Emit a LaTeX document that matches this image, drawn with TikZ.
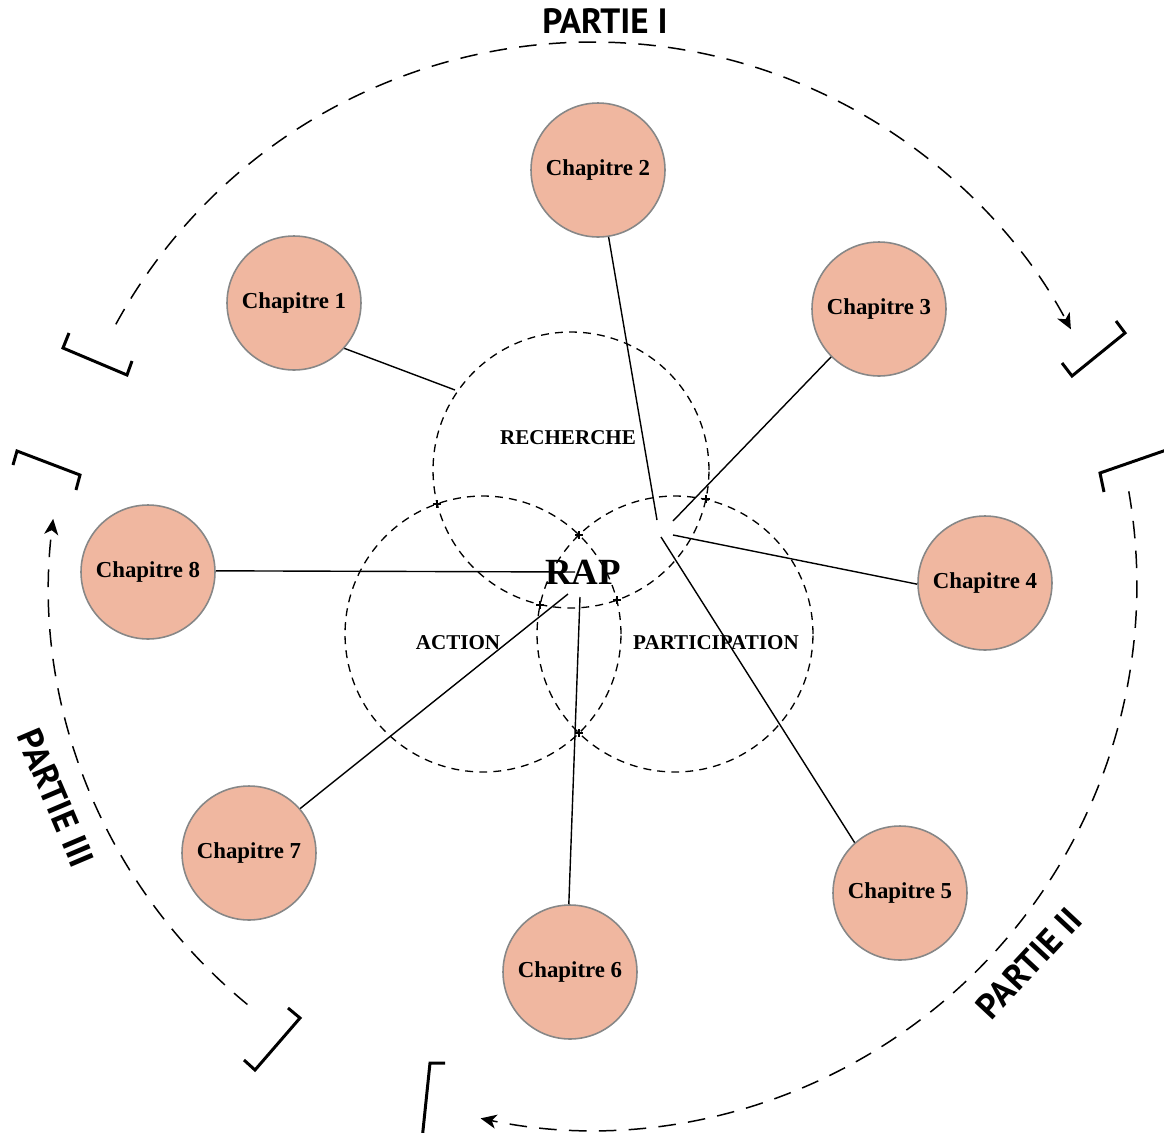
\documentclass[tikz,border=0pt]{standalone}
\usepackage{fontspec}
\setmainfont{Liberation Serif}
\newfontfamily\partfont{PT Sans}
\usetikzlibrary{arrows.meta,calc}
\definecolor{chapfill}{RGB}{240,183,160}
\definecolor{chapdraw}{RGB}{135,135,135}
\begin{document}
\begin{tikzpicture}[x=0.02cm,y=-0.02cm,
  chap/.style={circle,draw=chapdraw,line width=0.9pt,fill=chapfill,minimum size=2.68cm,inner sep=0pt,font=\fontsize{13}{15}\selectfont\bfseries},
  conn/.style={line width=0.8pt},
  zone/.style={line width=0.75pt,dash pattern=on 4.5pt off 3.5pt},
  zonelabel/.style={font=\fontsize{12}{14}\selectfont\bfseries,inner sep=0pt},
  part/.style={line width=0.85pt,dash pattern=on 10pt off 7pt},
  parttip/.style={-{Stealth[length=9pt,width=8pt,inset=2.5pt]}},
  bracket/.style={line width=1.7pt,line join=miter},
  partlabel/.style={font=\partfont\fontsize{20}{22}\selectfont\bfseries,inner sep=0pt},
  xmark/.style={line width=0.6pt}
]
\useasboundingbox (0,0) rectangle (1164,1133);

% dashed zone circles
\coordinate (R) at (571,470);
\coordinate (A) at (483,634);
\coordinate (P) at (675,634);
\draw[zone] (R) circle[radius=2.76cm];
\draw[zone] (A) circle[radius=2.76cm];
\draw[zone] (P) circle[radius=2.76cm];

% intersection marks
\foreach \p in {(437,504),(617,600),(706,499),(540,605),(579,535),(579,733)}{
  \draw[xmark] \p ++(-4,0) -- ++(8,0);
  \draw[xmark] \p ++(0,-4) -- ++(0,8);
}

\node[zonelabel] (lr) at (568,438) {RECHERCHE};
\node[zonelabel] (la) at (458,643) {ACTION};
\node[zonelabel] (lp) at (716,643) {PARTICIPATION};

% chapter nodes
\node[chap] (c1) at (294,303) {\raisebox{-1.5pt}{Chapitre 1}};
\node[chap] (c2) at (598,170) {\raisebox{-1.5pt}{Chapitre 2}};
\node[chap] (c3) at (879,309) {\raisebox{-1.5pt}{Chapitre 3}};
\node[chap] (c4) at (985,583) {\raisebox{-1.5pt}{Chapitre 4}};
\node[chap] (c5) at (900,893) {\raisebox{-1.5pt}{Chapitre 5}};
\node[chap] (c6) at (570,972) {\raisebox{-1.5pt}{Chapitre 6}};
\node[chap] (c7) at (249,853) {\raisebox{-1.5pt}{Chapitre 7}};
\node[chap] (c8) at (148,572) {\raisebox{-1.5pt}{Chapitre 8}};

% connector ends
\coordinate (e1) at (455,390);
\coordinate (e2) at (657,520);
\coordinate (e3) at (673,521);
\coordinate (e4) at (673,535);
\coordinate (e5) at (661,537);
\coordinate (e6) at (580,597);
\coordinate (e7) at (568,594);
\coordinate (e8) at (575,572);

\draw[conn] (c1.-42) -- (e1);
\draw[conn] (c2.-81) -- (e2);
\draw[conn] (c3.-135) -- (e3);
\draw[conn] (c4.181) -- (e4);
\draw[conn] (c5.132) -- (e5);
\draw[conn] (c6.91) -- (e6);
\draw[conn] (c7.41) -- (e7);
\draw[conn] (c8.1) -- (e8);

\node[font=\fontsize{21}{24}\selectfont\bfseries,inner sep=0pt] (rap) at (583,572) {RAP};

% outer arcs
\coordinate (C) at (592,585);
\draw[part,parttip] ($(C)+(151.3:10.86cm)$) arc[start angle=151.3,end angle=28.1,radius=10.86cm];
\draw[part,parttip] ($(C)+(9.9:10.9cm)$) arc[start angle=9.9,end angle=-101.8,radius=10.9cm];
\draw[part,parttip] ($(C)+(230.6:10.86cm)$) arc[start angle=230.6,end angle=173,radius=10.86cm];

% brackets
\draw[bracket] (69,333) -- (63,348) -- (127,375) -- (132,361);
\draw[bracket] (1116,321) -- (1125,333) -- (1072,376) -- (1062,363);
\draw[bracket] (1104,492) -- (1100,473) -- (1175,447);
\draw[bracket] (445,1063) -- (430,1063) -- (422,1140);
\draw[bracket] (13,465) -- (17,451) -- (80,475) -- (76,490);
\draw[bracket] (288,1008) -- (300,1018) -- (255,1070) -- (244,1060);

% part labels
\node[partlabel] (p1) at (605,21) {PARTIE I};
\node[partlabel,rotate=47] (p2) at (1029,963) {PARTIE II};
\node[partlabel,rotate=-67] (p3) at (56,798) {PARTIE III};
\end{tikzpicture}
\end{document}
